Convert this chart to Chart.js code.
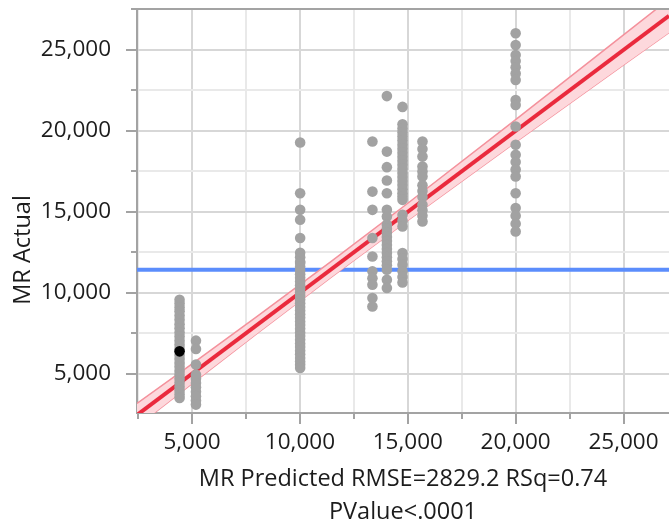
<!DOCTYPE html>
<html>
<head>
<meta charset="utf-8">
<script src="https://cdn.jsdelivr.net/npm/chart.js@4/dist/chart.umd.min.js"></script>
<style>
html,body{margin:0;padding:0;background:#fff;}
#wrap{width:669px;height:523px;position:relative;}
</style>
</head>
<body>
<div id="wrap"><canvas id="c" width="669" height="523"></canvas></div>
<script>
// ---------- text ----------
const xTitleLines = ['MR Predicted RMSE=2829.2 RSq=0.74', 'PValue<.0001'];
const yTitleText = 'MR Actual';

// ---------- axes ----------
const xMin = 2447, xMax = 27108;
const yMin = 2570, yMax = 27530;
const xTickValues = [2500, 5000, 7500, 10000, 12500, 15000, 17500, 20000, 22500, 25000];
const yTickValues = [5000, 7500, 10000, 12500, 15000, 17500, 20000, 22500, 25000, 27500];
const labelStep = 5000;    // labelled (major) ticks

// ---------- data: predicted levels and actual values at each ----------
const predictedLevels = [4420, 5180, 10010, 13360, 14030, 14755, 15680, 20000];
const actualAt4420 = [9570, 9330, 9090, 8850, 8590, 8330, 8060, 7800, 7540, 7290, 7030, 6780, 6540, 6150, 5910, 5660, 5420, 5170, 4930, 4680, 4440, 4190, 3950, 3720, 3500];
const actualAt5180 = [7040, 6520, 5560, 4940, 4690, 4430, 4160, 3880, 3610, 3350, 3090];
const actualAt10010 = [19280, 16150, 15120, 14510, 13380, 12470, 12190, 11910, 11830, 11600, 11380, 11150, 10920, 10700, 10470, 10250, 10020, 9800, 9570, 9350, 9120, 8900, 8670, 8450, 8220, 8000, 7770, 7550, 7320, 7100, 6870, 6650, 6420, 6200, 5970, 5750, 5550, 5350];
const actualAt13360 = [19340, 16250, 15120, 13380, 12240, 11320, 10900, 10490, 9670, 9150];
const actualAt14030 = [22150, 18720, 17760, 16930, 16150, 15120, 14710, 14200, 13950, 13700, 13450, 13200, 12950, 12700, 12450, 12200, 11950, 11700, 11420, 10800, 10290];
const actualAt14755 = [21480, 20410, 20150, 19900, 19650, 19400, 19150, 18900, 18650, 18400, 18150, 17900, 17650, 17400, 17150, 16900, 16650, 16400, 16150, 15950, 15740, 14820, 14450, 14090, 12450, 12090, 11730, 11320, 10980, 10640];
const actualAt15680 = [19340, 18880, 18410, 17800, 17490, 17180, 16640, 16280, 15920, 15430, 15100, 14760, 14400];
const actualAt20000 = [26030, 25310, 24690, 24310, 23930, 23540, 23150, 21910, 21600, 20270, 19140, 18520, 18070, 17620, 17180, 16150, 15230, 14750, 14270, 13790];
const actualByLevel = [actualAt4420, actualAt5180, actualAt10010, actualAt13360, actualAt14030, actualAt14755, actualAt15680, actualAt20000];

// highlighted (selected) row
const selectedPredicted = [4420];
const selectedActual = [6380];

// mean of actual (horizontal reference line)
const meanActual = 11420;

// fit line (actual = predicted) and its confidence band
const fitX = [2447, 27108];
const fitY = [2447, 27108];
const bandX     = [2447, 5000, 8000, 11420, 15000, 20000, 25000, 27108];
const bandUpper = [3160, 5610, 8530, 11910, 15530, 20700, 25930, 28140];
const bandLower = [1740, 4390, 7470, 10930, 14470, 19300, 24070, 26070];

// ---------- build datasets ----------
const pts = [];
predictedLevels.forEach((px, i) => actualByLevel[i].forEach(a => pts.push({x: px, y: a})));
const selPts = selectedPredicted.map((p, i) => ({x: p, y: selectedActual[i]}));
const fitPts = fitX.map((x, i) => ({x, y: fitY[i]}));
const upPts = bandX.map((x, i) => ({x, y: bandUpper[i]}));
const loPts = bandX.map((x, i) => ({x, y: bandLower[i]}));
const meanPts = [{x: xMin, y: meanActual}, {x: xMax, y: meanActual}];

const FONT = "'Open Sans', 'Noto Sans', sans-serif";
const TXT = '#1c1c1c';
const AXIS = '#a3a3a3';
const isMajor = v => Math.abs(v % labelStep) < 1e-6;
const zeroPad = s => { s.paddingTop = 0; s.paddingBottom = 0; s.paddingLeft = 0; s.paddingRight = 0; };

const extras = {
  id: 'extras',
  afterDraw(chart) {
    const ctx = chart.ctx, ca = chart.chartArea;
    ctx.save();
    ctx.strokeStyle = AXIS; ctx.lineWidth = 2;
    const xs = chart.scales.x, ys = chart.scales.y;
    xs.ticks.forEach(t => {
      if (isMajor(t.value)) return;
      const p = Math.round(xs.getPixelForValue(t.value));
      ctx.beginPath(); ctx.moveTo(p, ca.bottom); ctx.lineTo(p, ca.bottom + 6); ctx.stroke();
    });
    ys.ticks.forEach(t => {
      if (isMajor(t.value)) return;
      const p = Math.round(ys.getPixelForValue(t.value));
      ctx.beginPath(); ctx.moveTo(ca.left, p); ctx.lineTo(ca.left - 6, p); ctx.stroke();
    });
    // top frame line
    ctx.beginPath(); ctx.moveTo(ca.left - 6, ca.top); ctx.lineTo(ca.right, ca.top); ctx.stroke();
    // rotated y title
    ctx.fillStyle = TXT;
    ctx.font = "23.5px " + FONT;
    ctx.textAlign = 'center'; ctx.textBaseline = 'middle';
    ctx.translate(23, (ca.top + chart.height) / 2 - 16);
    ctx.rotate(-Math.PI / 2);
    ctx.fillText(yTitleText, 0, 0);
    ctx.restore();
  }
};

const gridOpts = {
  lineWidth: 2, tickLength: 11, tickWidth: 2,
  color: c => (c.tick && isMajor(c.tick.value)) ? '#d7d7d7' : '#e9e9e9',
  tickColor: c => (c.tick && isMajor(c.tick.value)) ? AXIS : 'rgba(0,0,0,0)'
};

new Chart(document.getElementById('c'), {
  type: 'scatter',
  data: {
    datasets: [
      {label: 'selected', data: selPts, order: 0, pointRadius: 5.3, pointHoverRadius: 5.3, backgroundColor: '#000', borderWidth: 0},
      {label: 'rows', data: pts, order: 1, pointRadius: 5.3, pointHoverRadius: 5.3, backgroundColor: '#a2a2a2', borderWidth: 0},
      {label: 'fit', data: fitPts, order: 2, showLine: true, pointRadius: 0, borderColor: '#ea2a3d', borderWidth: 4, fill: false},
      {label: 'upper', data: upPts, order: 3, showLine: true, pointRadius: 0, borderColor: '#f4919c', borderWidth: 1.5, fill: '+1', backgroundColor: '#fdd8dc'},
      {label: 'lower', data: loPts, order: 4, showLine: true, pointRadius: 0, borderColor: '#f4919c', borderWidth: 1.5, fill: false},
      {label: 'mean', data: meanPts, order: 5, showLine: true, pointRadius: 0, borderColor: '#5b8dfc', borderWidth: 4, fill: false}
    ]
  },
  options: {
    responsive: false,
    animation: false,
    devicePixelRatio: 1,
    layout: {padding: {top: 9, left: 0, right: 0, bottom: 0}, autoPadding: false},
    plugins: {legend: {display: false}, tooltip: {enabled: false}},
    scales: {
      x: {
        type: 'linear', position: 'bottom', min: xMin, max: xMax,
        afterBuildTicks: s => { s.ticks = xTickValues.filter(v => v >= xMin && v <= xMax).map(v => ({value: v})); },
        afterFit: s => { s.height = 110; zeroPad(s); },
        ticks: {
          autoSkip: false, maxRotation: 0, minRotation: 0,
          padding: 5, color: TXT, font: {family: FONT, size: 22.5},
          callback: v => isMajor(v) ? v.toLocaleString('en-US') : ''
        },
        grid: gridOpts,
        border: {color: AXIS, width: 2},
        title: {display: true, text: xTitleLines, color: TXT, font: {family: FONT, size: 23.5, lineHeight: '33px'}, padding: {top: 0, bottom: -6}}
      },
      y: {
        type: 'linear', position: 'left', min: yMin, max: yMax,
        afterBuildTicks: s => { s.ticks = yTickValues.filter(v => v >= yMin && v <= yMax).map(v => ({value: v})); },
        afterFit: s => { s.width = 137; zeroPad(s); },
        ticks: {
          autoSkip: false,
          padding: 15, color: TXT, font: {family: FONT, size: 22.5},
          callback: v => isMajor(v) ? v.toLocaleString('en-US') : ''
        },
        grid: gridOpts,
        border: {color: AXIS, width: 2}
      }
    }
  },
  plugins: [extras]
});
</script>
</body>
</html>
